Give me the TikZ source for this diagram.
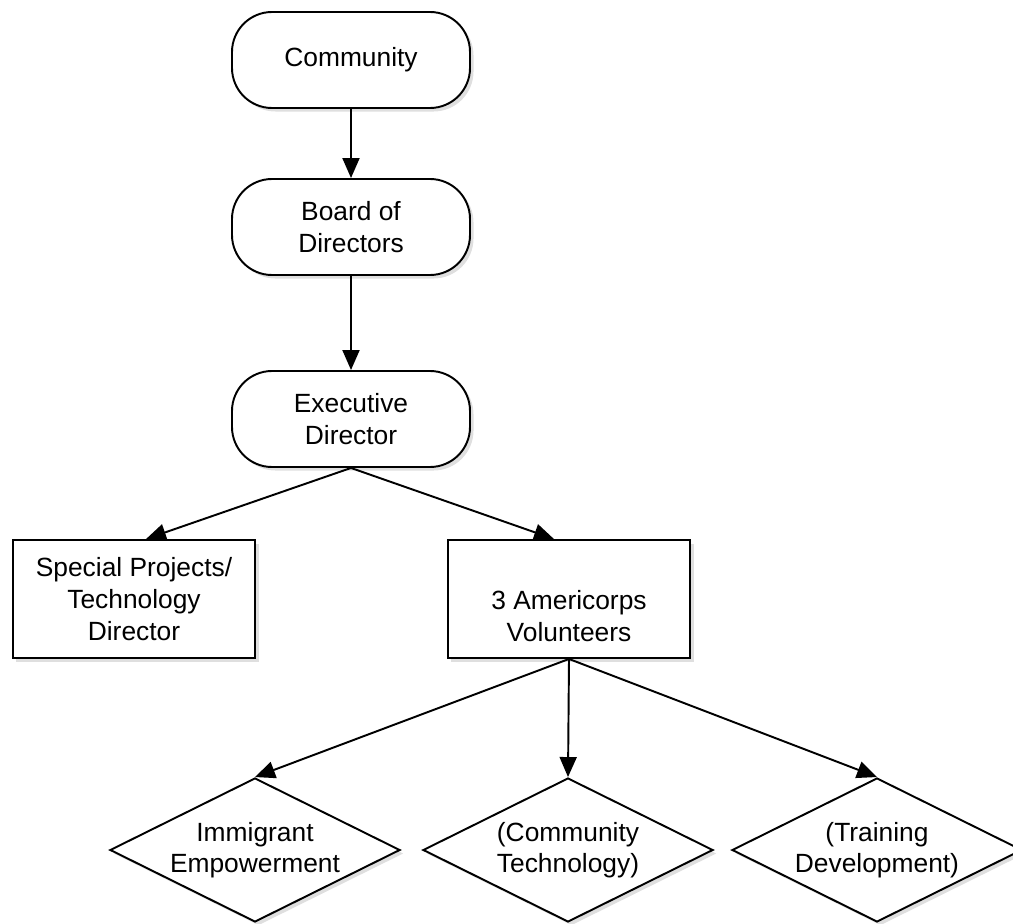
\documentclass[tikz,border=0pt]{standalone}
\usepackage{fontspec}
\setmainfont{Liberation Sans}
\usetikzlibrary{positioning,arrows.meta,shapes.geometric,shadows}

\begin{document}
\begin{tikzpicture}[
  font=\fontsize{15}{18}\selectfont,
  base/.style={draw, line width=1.1pt, fill=white, align=center,
    drop shadow={shadow xshift=2pt, shadow yshift=-2pt, opacity=0.25}},
  term/.style={base, rounded corners=8mm, minimum width=47.6mm, minimum height=19.2mm},
  box/.style={base, minimum width=48.5mm, minimum height=23.6mm},
  dec/.style={base, diamond, aspect=2, inner sep=0pt, minimum width=58mm, minimum height=28.8mm},
  arr/.style={-{Triangle[length=4mm, width=3.4mm]}, line width=1.1pt}
]
  \useasboundingbox (0,0) rectangle (20.26,-18.48);
  % top chain
  \node[term] (com) at (7.02,-1.2) {Community};
  \node[term] (bod) at (7.02,-4.54) {Board of\\Directors};
  \node[term] (exd) at (7.02,-8.38) {Executive\\Director};
  % staff
  \node[box] (spd) at (2.68,-11.98) {Special Projects/\\Technology\\Director};
  \node[box] (vol) at (11.38,-11.98) {\strut\\3 Americorps\\Volunteers};
  % programs
  \node[dec] (imm) at (5.10,-17.0) {Immigrant\\Empowerment};
  \node[dec] (ctc) at (11.36,-17.0) {(Community\\Technology)};
  \node[dec] (trn) at (17.54,-17.0) {(Training\\Development)};
  \draw[arr] (com) -- (bod);
  \draw[arr] (bod) -- (exd);
  \draw[arr] (exd.south) -- ([xshift=2.4mm]spd.north);
  \draw[arr] (exd.south) -- ([xshift=-3mm]vol.north);
  \draw[arr] (vol.south) -- (imm.north);
  \draw[arr] (vol.south) -- (ctc.north);
  \draw[arr] (vol.south) -- (trn.north);
\end{tikzpicture}
\end{document}
